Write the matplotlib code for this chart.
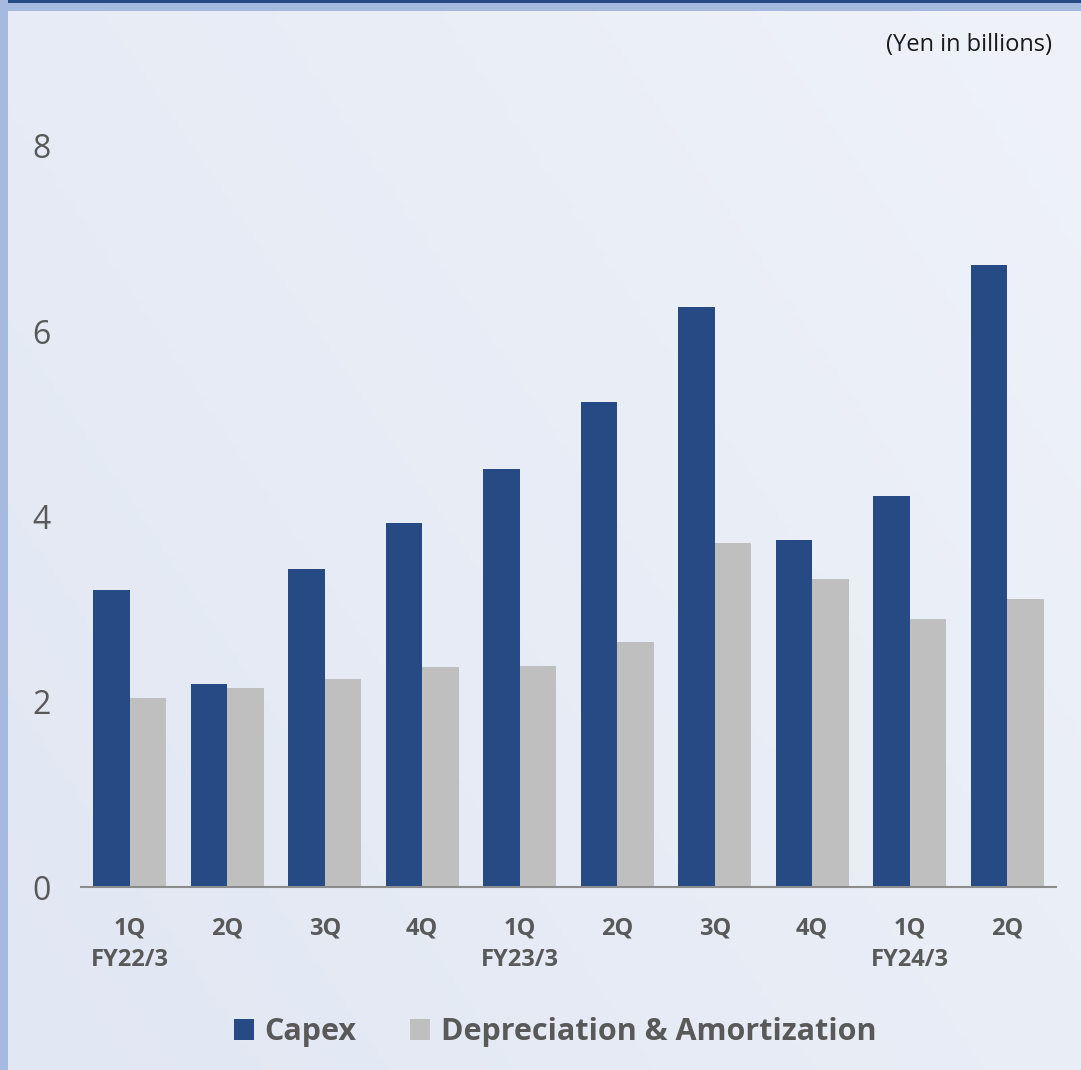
import matplotlib.pyplot as plt
import numpy as np

quarters = ["1Q\nFY22/3", "2Q", "3Q", "4Q", "1Q\nFY23/3", "2Q", "3Q", "4Q", "1Q\nFY24/3", "2Q"]
capex = [3.21, 2.19, 3.43, 3.93, 4.51, 5.24, 6.26, 3.75, 4.22, 6.71]
dep_amort = [2.04, 2.15, 2.25, 2.38, 2.39, 2.65, 3.71, 3.33, 2.89, 3.11]

navy = "#264a84"
grey = "#bfbfbf"
text_grey = "#595959"

plt.rcParams['font.family'] = ['Open Sans', 'DejaVu Sans']

fig = plt.figure(figsize=(10.81, 10.70), dpi=100)

# background gradient
bg = fig.add_axes([0, 0, 1, 1], zorder=-10)
xx, yy = np.meshgrid(np.linspace(0, 1, 200), np.linspace(0, 1, 200))
grad = 0.6 * xx + 0.4 * yy
bg.imshow(grad, extent=[0, 1, 0, 1], origin='lower', aspect='auto',
          cmap=plt.matplotlib.colors.LinearSegmentedColormap.from_list('bg', ["#e1e7f3", "#eff2f9"]))
bg.axis('off')
bg.set_xlim(0, 1)
bg.set_ylim(0, 1)
# borders
bg.add_patch(plt.Rectangle((0, 1 - 11 / 1070), 1, 11 / 1070, color="#a6badf", lw=0))
bg.add_patch(plt.Rectangle((0, 1 - 3 / 1070), 1, 3 / 1070, color=navy, lw=0))
bg.add_patch(plt.Rectangle((0, 0), 8 / 1081, 1, color="#a6badf", lw=0))

ax = fig.add_axes([81 / 1081, 1 - 887 / 1070, 975 / 1081, (887 - 146) / 1070])
ax.patch.set_alpha(0)

x = np.arange(len(quarters))
w = 0.375
ax.bar(x - w / 2, capex, width=w, color=navy, label="Capex")
ax.bar(x + w / 2, dep_amort, width=w, color=grey, label="Depreciation & Amortization")

ax.set_xlim(-0.5, len(quarters) - 0.5)
ax.set_ylim(0, 8)
ax.set_yticks([0, 2, 4, 6, 8])
ax.set_xticks(x)
ax.set_xticklabels(quarters, fontsize=17, fontweight='bold', color=text_grey, linespacing=1.45)
ax.tick_params(axis='x', length=0, pad=21)
ax.tick_params(axis='y', length=0, pad=22, labelsize=23, labelcolor=text_grey)
for s in ['top', 'right', 'left']:
    ax.spines[s].set_visible(False)
ax.spines['bottom'].set_color("#8c8c8c")
ax.spines['bottom'].set_linewidth(1.5)

fig.text(1052 / 1081, 1 - 45 / 1070, "(Yen in billions)", ha='right', va='center',
         fontsize=17, color="#1a1a1a")

leg = fig.legend(loc='center', bbox_to_anchor=(555 / 1081, 1 - 1032 / 1070), ncol=2,
                 frameon=False, prop={'size': 22, 'weight': 'bold'},
                 handlelength=0.65, handleheight=0.7, handletextpad=0.35, columnspacing=1.75)
for t in leg.get_texts():
    t.set_color(text_grey)

fig.savefig("out.png", dpi=100)
